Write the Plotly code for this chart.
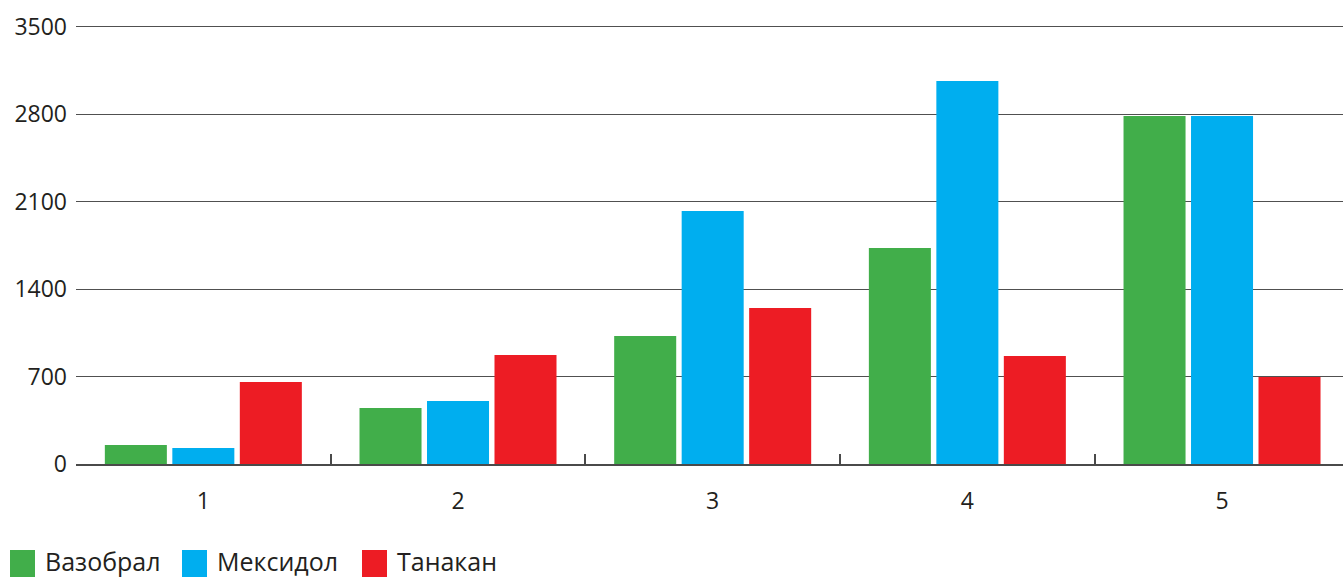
import plotly.graph_objects as go

categories = ["1", "2", "3", "4", "5"]
series_names = ["Вазобрал", "Мексидол", "Танакан"]
vazobral = [152, 448, 1024, 1729, 2785]
meksidol = [128, 504, 2025, 3065, 2785]
tanakan = [656, 872, 1249, 864, 696]
colors = ["#41AE4A", "#00AEEF", "#ED1C24"]
y_ticks = [0, 700, 1400, 2100, 2800, 3500]

series_values = [vazobral, meksidol, tanakan]

fig = go.Figure()
for name, vals, col in zip(series_names, series_values, colors):
    fig.add_trace(go.Bar(x=categories, y=vals, name=name, marker=dict(color=col, line=dict(width=0)),
                         showlegend=False))

FONT = "Open Sans"
PW, PH, PB = 1267, 445, 464
fig.update_layout(
    width=1343, height=579,
    margin=dict(l=76, r=0, t=19, b=115),
    plot_bgcolor="white", paper_bgcolor="white",
    barmode="group", bargap=0.205, bargroupgap=0.081,
    font=dict(family=FONT, size=23, color="#231F20"),
    xaxis=dict(type="category", range=[-0.5, 4.475], showgrid=False,
               showline=True, linecolor="#4a4a4a", linewidth=1.5,
               ticks="inside", tickson="boundaries", ticklen=10, tickwidth=1.5, tickcolor="#4a4a4a",
               ticklabelstandoff=16, tickfont=dict(size=23)),
    yaxis=dict(range=[0, 3562], tickvals=y_ticks, showgrid=True, gridcolor="#505050", gridwidth=1,
               zeroline=False, showline=False, ticks="", ticklabelstandoff=8,
               tickfont=dict(size=23)),
)

# custom legend (large swatches like the reference)
legend_x = [10, 182, 362]
for name, col, x0 in zip(series_names, colors, legend_x):
    fig.add_shape(type="rect", xref="paper", yref="paper",
                  x0=(x0 - 76) / PW, x1=(x0 + 25 - 76) / PW,
                  y0=-(577 - PB) / PH, y1=-(550 - PB) / PH,
                  fillcolor=col, line=dict(width=0))
    fig.add_annotation(xref="paper", yref="paper", x=(x0 + 34 - 76) / PW, y=-(578.5 - PB) / PH,
                       text=name, showarrow=False, xanchor="left", yanchor="bottom",
                       borderpad=0,
                       font=dict(family=FONT, size=25, color="#231F20"))

fig.write_html("out.html")
